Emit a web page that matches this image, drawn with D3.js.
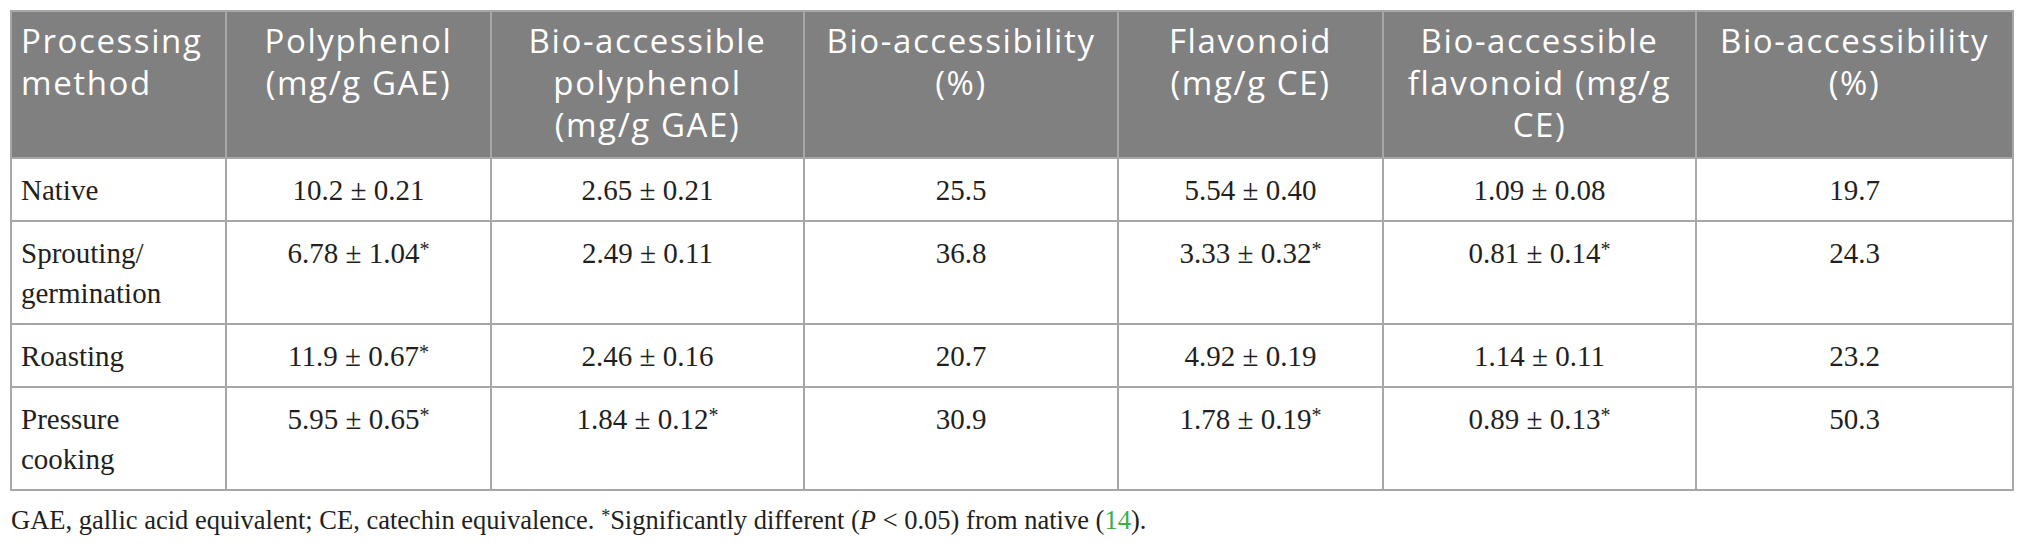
<!DOCTYPE html>
<html>
<head>
<meta charset="utf-8">
<script src="https://cdn.jsdelivr.net/npm/d3@7"></script>
<style>
  html, body { margin: 0; padding: 0; background: #ffffff; }
  svg { display: block; }
</style>
</head>
<body>
<svg></svg>
<script>
const [WIDTH, HEIGHT] = [2026, 548];
const COL_EDGES = [11, 226, 491, 804, 1118, 1383, 1696, 2013];
const TABLE_TOP = 11;
const HEAD_LINE = 42;
const BODY_LINE = 40;
const CELL_PAD_X = 10;
const CELL_PAD_Y = 11;
const GRID_COLOR = "#a7a7a7";
const HEAD_FILL = "#808080";
const TEXT_COLOR = "#231f20";
const SERIF = "'Liberation Serif', 'Times New Roman', serif";

// Header labels, one array per column (already broken into lines)
const headers = [
  ["Processing", "method"],
  ["Polyphenol", "(mg/g GAE)"],
  ["Bio-accessible", "polyphenol", "(mg/g GAE)"],
  ["Bio-accessibility", "(%)"],
  ["Flavonoid", "(mg/g CE)"],
  ["Bio-accessible", "flavonoid (mg/g", "CE)"],
  ["Bio-accessibility", "(%)"],
];

// Row categories
const methods = [["Native"], ["Sprouting/", "germination"], ["Roasting"], ["Pressure", "cooking"]];

// Series values
const polyphenol = [10.2, 6.78, 11.9, 5.95];
const polyphenolSd = [0.21, 1.04, 0.67, 0.65];
const polyphenolSig = [false, true, true, true];

const bioPolyphenol = [2.65, 2.49, 2.46, 1.84];
const bioPolyphenolSd = [0.21, 0.11, 0.16, 0.12];
const bioPolyphenolSig = [false, false, false, true];

const polyphenolAccess = [25.5, 36.8, 20.7, 30.9];

const flavonoid = [5.54, 3.33, 4.92, 1.78];
const flavonoidSd = [0.4, 0.32, 0.19, 0.19];
const flavonoidSig = [false, true, false, true];

const bioFlavonoid = [1.09, 0.81, 1.14, 0.89];
const bioFlavonoidSd = [0.08, 0.14, 0.11, 0.13];
const bioFlavonoidSig = [false, true, false, true];

const flavonoidAccess = [19.7, 24.3, 23.2, 50.3];

const fmt3 = d3.format(".3r");
const fmt2 = d3.format(".2f");
const fmt1 = d3.format(".1f");

// a cell line is [text, starred]
const meanSd = (mean, sd, sig, fmtMean) => [`${fmtMean(mean)} \u00b1 ${fmt2(sd)}`, sig];

const rows = methods.map((m, i) => [
  m.map((t) => [t, false]),
  [meanSd(polyphenol[i], polyphenolSd[i], polyphenolSig[i], fmt3)],
  [meanSd(bioPolyphenol[i], bioPolyphenolSd[i], bioPolyphenolSig[i], fmt2)],
  [[fmt1(polyphenolAccess[i]), false]],
  [meanSd(flavonoid[i], flavonoidSd[i], flavonoidSig[i], fmt2)],
  [meanSd(bioFlavonoid[i], bioFlavonoidSd[i], bioFlavonoidSig[i], fmt2)],
  [[fmt1(flavonoidAccess[i]), false]],
]);

// Row geometry from line counts
const headHeight = d3.max(headers, (h) => h.length) * HEAD_LINE + 2 * CELL_PAD_Y - 1;
const rowHeights = rows.map((r) => d3.max(r, (c) => c.length) * BODY_LINE + 2 * CELL_PAD_Y + 1);
const rowEdges = [TABLE_TOP, TABLE_TOP + headHeight];
rowHeights.forEach((h) => rowEdges.push(rowEdges[rowEdges.length - 1] + h));

const colLeft = d3.scaleOrdinal().domain(d3.range(headers.length)).range(COL_EDGES.slice(0, -1));
const colRight = d3.scaleOrdinal().domain(d3.range(headers.length)).range(COL_EDGES.slice(1));
const textX = (j) => (j === 0 ? colLeft(j) + CELL_PAD_X : (colLeft(j) + colRight(j)) / 2);
const anchor = (j) => (j === 0 ? "start" : "middle");

const svg = d3
  .select("svg")
  .attr("width", WIDTH)
  .attr("height", HEIGHT)
  .attr("viewBox", `0 0 ${WIDTH} ${HEIGHT}`);

// Header background
svg
  .append("rect")
  .attr("x", COL_EDGES[0])
  .attr("y", TABLE_TOP)
  .attr("width", COL_EDGES[COL_EDGES.length - 1] - COL_EDGES[0])
  .attr("height", headHeight)
  .attr("fill", HEAD_FILL);

// Header text
const headG = svg.append("g").attr("class", "head");
headers.forEach((lines, j) => {
  headG
    .append("text")
    .attr("x", textX(j))
    .attr("y", TABLE_TOP + 42)
    .attr("text-anchor", anchor(j))
    .attr("fill", "#ffffff")
    .style("font-family", "'Open Sans', sans-serif")
    .style("font-size", "33px")
    .style("letter-spacing", "1.6px")
    .selectAll("tspan")
    .data(lines)
    .enter()
    .append("tspan")
    .attr("x", textX(j))
    .attr("dy", (d, k) => (k === 0 ? 0 : HEAD_LINE))
    .text((d) => d);
});

// Body text
const bodyG = svg.append("g").attr("class", "body");
rows.forEach((cells, i) => {
  cells.forEach((lines, j) => {
    const line = bodyG
      .append("text")
      .attr("x", textX(j))
      .attr("y", rowEdges[i + 1] + 42)
      .attr("text-anchor", anchor(j))
      .attr("fill", TEXT_COLOR)
      .style("font-family", SERIF)
      .style("font-size", "29px")
      .selectAll("tspan.line")
      .data(lines)
      .enter()
      .append("tspan")
      .attr("class", "line")
      .attr("x", textX(j))
      .attr("dy", (d, k) => (k === 0 ? 0 : BODY_LINE));
    line.append("tspan").text((d) => d[0]);
    line
      .filter((d) => d[1])
      .append("tspan")
      .style("font-size", "20px")
      .style("baseline-shift", "7px")
      .text("*");
  });
});

// Grid lines
const grid = svg.append("g").attr("stroke", GRID_COLOR).attr("stroke-width", 2);
grid
  .selectAll("line.h")
  .data(rowEdges)
  .enter()
  .append("line")
  .attr("x1", COL_EDGES[0])
  .attr("x2", COL_EDGES[COL_EDGES.length - 1])
  .attr("y1", (d) => d)
  .attr("y2", (d) => d);
grid
  .selectAll("line.v")
  .data(COL_EDGES)
  .enter()
  .append("line")
  .attr("x1", (d) => d)
  .attr("x2", (d) => d)
  .attr("y1", rowEdges[0] - 1)
  .attr("y2", rowEdges[rowEdges.length - 1] + 1);

// Footnote
const note = svg
  .append("text")
  .attr("x", COL_EDGES[0])
  .attr("y", rowEdges[rowEdges.length - 1] + 39)
  .attr("fill", TEXT_COLOR)
  .style("font-family", SERIF)
  .style("font-size", "26.5px");
note.append("tspan").text("GAE, gallic acid equivalent; CE, catechin equivalence. ");
note.append("tspan").style("font-size", "18px").style("baseline-shift", "7px").text("*");
note.append("tspan").text("Significantly different (");
note.append("tspan").style("font-style", "italic").text("P");
note.append("tspan").text(" < 0.05) from native (");
note.append("tspan").attr("fill", "#3fae49").text("14");
note.append("tspan").text(").");
</script>
</body>
</html>
